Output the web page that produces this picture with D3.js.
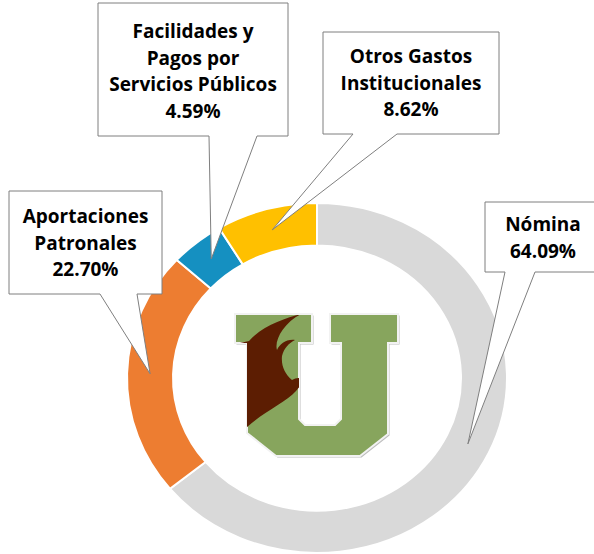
<!DOCTYPE html>
<html>
<head>
<meta charset="utf-8">
<script src="https://cdn.jsdelivr.net/npm/d3@7"></script>
<style>
  html, body { margin: 0; padding: 0; background: #fff; }
  svg { display: block; }
</style>
</head>
<body>
<div id="chart"></div>
<script>
const categories = ["Nómina", "Aportaciones Patronales", "Facilidades y Pagos por Servicios Públicos", "Otros Gastos Institucionales"];
const values = [64.09, 22.70, 4.59, 8.62];
const labelLines = [
    ["Nómina"],
    ["Aportaciones", "Patronales"],
    ["Facilidades y", "Pagos por", "Servicios Públicos"],
    ["Otros Gastos", "Institucionales"]
];
const colors = ["#d9d9d9", "#ed7d31", "#1590c1", "#ffc000"];

const width = 594, height = 554;
const cx = 317, cy = 378;
const outerR = 190, innerR = 144;
const squash = 0.921; // donut is slightly flattened vertically

// callout boxes: [x0, y0, x1, y1, pointer base left, pointer base right, first baseline]
const boxes = [
    [485, 202, 601, 272, 505, 535, 231],
    [9, 191, 162, 294, 100, 137, 223],
    [98, 3, 288, 136, 209, 257, 38],
    [323, 32, 499, 134, 353, 397, 63]
];

const svg = d3.select("#chart").append("svg")
    .attr("width", width)
    .attr("height", height);

const pie = d3.pie().sort(null).value(d => d);
const arcs = pie(values);
const arc = d3.arc().innerRadius(innerR).outerRadius(outerR);
const midArc = d3.arc().innerRadius((innerR + outerR) / 2).outerRadius((innerR + outerR) / 2);

// donut
svg.append("g")
    .attr("transform", `translate(${cx},${cy}) scale(1,${squash})`)
    .selectAll("path")
    .data(arcs)
    .enter()
    .append("path")
    .attr("d", arc)
    .attr("fill", (d, i) => colors[i])
    .attr("stroke", "#fff")
    .attr("stroke-width", 2)
    .attr("vector-effect", "non-scaling-stroke");

// logo (decorative)
const logo = svg.append("g");
const uPath = "M235,314 L312,314 L312,343 L299,343 L299,419 L305,425 L335,425 L341,419 L341,343 L330,343 L330,314 L398,314 L398,343 L388,343 L388,434 L360,456 L276,456 L247,433 L247,343 L235,343 Z";
const defs = svg.append("defs");
defs.append("clipPath").attr("id", "uclip").append("path").attr("d", uPath);
logo.append("path")
    .attr("d", uPath)
    .attr("transform", "translate(1.5,1.5)")
    .attr("fill", "#bdbdbd");
logo.append("path")
    .attr("d", uPath)
    .attr("fill", "#87a55d")
    .attr("stroke", "#f2f2f2")
    .attr("stroke-width", 2);
logo.append("path")
    .attr("clip-path", "url(#uclip)")
    .attr("fill", "#5c1d02")
    .attr("d", "M301,314 C285,318 262,326 249,341 L240,343 L240,434 " +
        "C258,414 284,404 296,391 C300,386 304,382 309,384 " +
        "C305,378 298,376 292,380 C285,374 281,366 282,356 " +
        "C284,348 289,343 295,340 C286,339 280,344 277,350 " +
        "C274,340 284,322 303,313 Z");

// callouts
const callouts = svg.append("g");
arcs.forEach((a, i) => {
    const [x0, y0, x1, y1, b0, b1, base] = boxes[i];
    const c = midArc.centroid(a);
    const tip = [cx + c[0], cy + c[1] * squash];
    const pts = [[x0, y0], [x1, y0], [x1, y1], [b1, y1], tip, [b0, y1], [x0, y1]];
    callouts.append("path")
        .attr("d", d3.line()(pts) + "Z")
        .attr("fill", "#fff")
        .attr("stroke", "#7f7f7f")
        .attr("stroke-width", 1);
    const lines = labelLines[i].concat([values[i].toFixed(2) + "%"]);
    const t = callouts.append("text")
        .attr("text-anchor", "middle")
        .attr("font-family", "'Open Sans', 'Noto Sans', sans-serif")
        .attr("font-weight", "bold")
        .attr("font-size", 19)
        .attr("fill", "#000");
    lines.forEach((s, j) => {
        t.append("tspan")
            .attr("x", (x0 + Math.min(x1, 601)) / 2)
            .attr("y", base + j * 26.5)
            .text(s);
    });
});
</script>
</body>
</html>
